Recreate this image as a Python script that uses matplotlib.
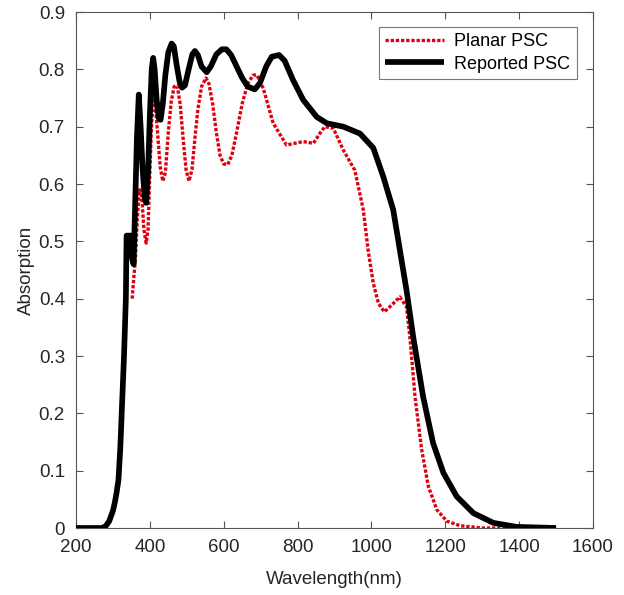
import matplotlib
matplotlib.use("Agg")
import matplotlib.pyplot as plt

plt.rcParams["font.family"] = ["Liberation Sans", "DejaVu Sans"]

# Reported PSC (black, solid)
reported_nm = [200, 270, 280, 290, 300, 305, 310, 315, 320, 325, 330, 335, 337,
               345, 350, 352, 356, 360, 365, 370, 375, 380, 386, 390, 395, 400,
               405, 409, 413, 418, 424, 429, 435, 442, 450, 459, 465, 472, 480,
               487, 495, 505, 515, 522, 530, 540, 554, 565, 580, 595, 607, 620,
               635, 650, 665, 684, 698, 715, 730, 750, 765, 788, 815, 852, 879,
               924, 969, 1005, 1032, 1059, 1077, 1095, 1113, 1140, 1167, 1195,
               1231, 1276, 1330, 1393, 1500]
reported_abs = [0.0, 0.0, 0.003, 0.012, 0.03, 0.044, 0.062, 0.084, 0.14, 0.22,
                0.30, 0.40, 0.51, 0.51, 0.51, 0.47, 0.46, 0.56, 0.68, 0.756,
                0.70, 0.63, 0.575, 0.567, 0.62, 0.72, 0.80, 0.82, 0.80, 0.75,
                0.715, 0.712, 0.74, 0.79, 0.83, 0.845, 0.84, 0.81, 0.78, 0.768,
                0.772, 0.80, 0.826, 0.832, 0.825, 0.805, 0.795, 0.805, 0.826,
                0.835, 0.835, 0.825, 0.805, 0.785, 0.77, 0.765, 0.776, 0.805,
                0.822, 0.825, 0.815, 0.781, 0.747, 0.717, 0.706, 0.70, 0.688,
                0.663, 0.613, 0.555, 0.485, 0.415, 0.334, 0.229, 0.148, 0.096,
                0.055, 0.026, 0.009, 0.002, 0.0]

# Planar PSC (red, dotted)
planar_nm = [352, 357, 361, 366, 372, 378, 384, 390, 395, 400, 405, 411, 416,
             422, 428, 435, 442, 450, 458, 466, 474, 482, 490, 498, 506, 514,
             522, 530, 540, 552, 560, 570, 580, 590, 600, 611, 622, 635, 650,
             665, 680, 690, 707, 734, 770, 815, 843, 862, 874, 897, 924, 955,
             978, 991, 1005, 1019, 1035, 1055, 1077, 1095, 1104, 1118, 1136,
             1154, 1177, 1204, 1240, 1300, 1500]
planar_abs = [0.40, 0.44, 0.47, 0.54, 0.59, 0.58, 0.52, 0.497, 0.52, 0.62,
              0.71, 0.75, 0.73, 0.68, 0.63, 0.605, 0.62, 0.69, 0.745, 0.77,
              0.772, 0.74, 0.68, 0.625, 0.605, 0.625, 0.68, 0.73, 0.77, 0.785,
              0.775, 0.74, 0.69, 0.65, 0.635, 0.634, 0.65, 0.69, 0.74, 0.775,
              0.79, 0.79, 0.767, 0.706, 0.668, 0.674, 0.671, 0.69, 0.70,
              0.697, 0.659, 0.624, 0.555, 0.485, 0.427, 0.392, 0.377, 0.389,
              0.403, 0.386, 0.334, 0.229, 0.137, 0.073, 0.032, 0.012, 0.004,
              0.0, 0.0]

x_ticks = [200, 400, 600, 800, 1000, 1200, 1400, 1600]
y_ticks = [0, 0.1, 0.2, 0.3, 0.4, 0.5, 0.6, 0.7, 0.8, 0.9]
y_tick_labels = ["0", "0.1", "0.2", "0.3", "0.4", "0.5", "0.6", "0.7", "0.8", "0.9"]

fig = plt.figure(figsize=(6.24, 5.95), dpi=100)
ax = fig.add_axes([0.1218, 0.1126, 0.8285, 0.8672])

ax.plot(planar_nm, planar_abs, color="#e0000f", linewidth=2.4,
        linestyle=(0, (1.0, 0.55)), dash_capstyle="butt", label="Planar PSC",
        zorder=2)
ax.plot(reported_nm, reported_abs, color="black", linewidth=4.1,
        solid_capstyle="butt", label="Reported PSC", zorder=3)

ax.set_xlim(200, 1600)
ax.set_ylim(0, 0.9)
ax.set_xticks(x_ticks)
ax.set_yticks(y_ticks)
ax.set_yticklabels(y_tick_labels)
ax.tick_params(direction="in", top=True, right=True, length=5, width=0.8,
               color="#555555", labelsize=13.5, labelcolor="#262626")
ax.tick_params(axis="x", pad=8)
ax.tick_params(axis="y", pad=8)
for sp in ax.spines.values():
    sp.set_color("#555555")
    sp.set_linewidth(0.8)

ax.set_xlabel("Wavelength(nm)", fontsize=13.5, color="#262626", labelpad=11)
ax.set_ylabel("Absorption", fontsize=13.5, color="#262626", labelpad=3)

leg = ax.legend(loc="upper right", bbox_to_anchor=(0.9685, 0.971), fontsize=13,
                frameon=True, fancybox=False, handlelength=3.3,
                handletextpad=0.55, borderpad=0.35, labelspacing=0.3,
                borderaxespad=0)
leg.get_frame().set_edgecolor("#555555")
leg.get_frame().set_linewidth(0.8)

fig.savefig("out.png", dpi=100)
